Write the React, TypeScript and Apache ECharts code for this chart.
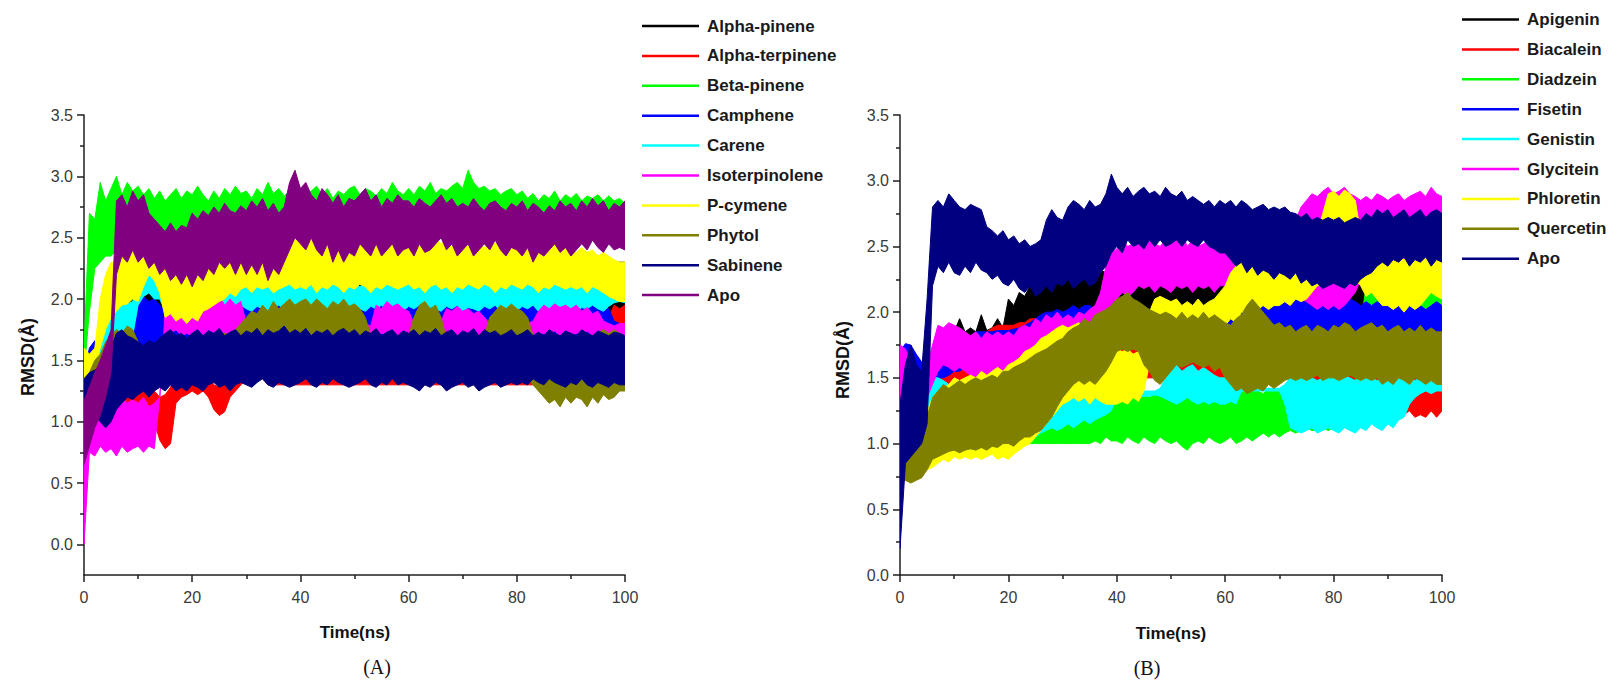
import React, { useEffect, useRef } from "react";
import * as echarts from "echarts";

// ---------- shared time grid (ns), 1 ns steps ----------
const TIME_NS = [0, 1, 2, 3, 4, 5, 6, 7, 8, 9,
  10, 11, 12, 13, 14, 15, 16, 17, 18, 19,
  20, 21, 22, 23, 24, 25, 26, 27, 28, 29,
  30, 31, 32, 33, 34, 35, 36, 37, 38, 39,
  40, 41, 42, 43, 44, 45, 46, 47, 48, 49,
  50, 51, 52, 53, 54, 55, 56, 57, 58, 59,
  60, 61, 62, 63, 64, 65, 66, 67, 68, 69,
  70, 71, 72, 73, 74, 75, 76, 77, 78, 79,
  80, 81, 82, 83, 84, 85, 86, 87, 88, 89,
  90, 91, 92, 93, 94, 95, 96, 97, 98, 99, 100];

const X_TICKS = [0, 20, 40, 60, 80, 100];
const Y_TICKS = [0, 0.5, 1, 1.5, 2, 2.5, 3, 3.5];
const Y_MINOR_A = [0.25, 0.75, 1.25, 1.75, 2.25, 2.75, 3.25];

// ---------- Panel A (terpenes): lower / upper envelope of each RMSD trace ----------
const NAMES_A = ["Alpha-pinene", "Alpha-terpinene", "Beta-pinene", "Camphene", "Carene",
  "Isoterpinolene", "P-cymene", "Phytol", "Sabinene", "Apo"];

const A_ALPHA_PINENE_LO = [1.0, 1.1, 1.2, 1.3, 1.4, 1.5, 1.6, 1.7, 1.75, 1.8,
  1.82, 1.85, 1.85, 1.85, 1.85, 1.85, 1.85, 1.85, 1.85, 1.85,
  1.85, 1.85, 1.85, 1.85, 1.85, 1.85, 1.85, 1.85, 1.85, 1.85,
  1.85, 1.85, 1.85, 1.85, 1.85, 1.85, 1.85, 1.85, 1.85, 1.85,
  1.85, 1.85, 1.85, 1.85, 1.85, 1.85, 1.85, 1.85, 1.85, 1.85,
  1.85, 1.85, 1.85, 1.85, 1.85, 1.85, 1.85, 1.85, 1.85, 1.85,
  1.85, 1.85, 1.85, 1.85, 1.85, 1.85, 1.85, 1.85, 1.85, 1.85,
  1.85, 1.85, 1.85, 1.85, 1.85, 1.85, 1.85, 1.85, 1.85, 1.85,
  1.85, 1.85, 1.85, 1.85, 1.85, 1.85, 1.85, 1.85, 1.85, 1.85,
  1.85, 1.85, 1.85, 1.85, 1.85, 1.85, 1.85, 1.85, 1.85, 1.85, 1.85];
const A_ALPHA_PINENE_HI = [1.4, 1.5, 1.6, 1.7, 1.8, 1.9, 2.0, 2.1, 2.2, 2.25,
  2.3, 2.3, 2.3, 2.3, 2.3, 2.3, 2.3, 2.3, 2.3, 2.3,
  2.3, 2.3, 2.3, 2.3, 2.3, 2.3, 2.3, 2.3, 2.3, 2.3,
  2.3, 2.3, 2.3, 2.3, 2.3, 2.3, 2.3, 2.3, 2.3, 2.3,
  2.3, 2.3, 2.3, 2.3, 2.3, 2.3, 2.3, 2.3, 2.3, 2.3,
  2.3, 2.3, 2.3, 2.3, 2.3, 2.3, 2.3, 2.3, 2.3, 2.3,
  2.3, 2.3, 2.3, 2.3, 2.3, 2.3, 2.3, 2.3, 2.3, 2.3,
  2.3, 2.35, 2.45, 2.35, 2.3, 2.3, 2.3, 2.3, 2.3, 2.3,
  2.3, 2.3, 2.3, 2.3, 2.3, 2.3, 2.3, 2.3, 2.3, 2.3,
  2.3, 2.3, 2.3, 2.3, 2.3, 2.3, 2.3, 2.3, 2.3, 2.3, 2.3];

const A_ALPHA_TERPINENE_LO = [0.9, 1.0, 1.0, 1.0, 1.0, 1.0, 1.0, 1.0, 1.0, 1.05,
  1.05, 1.05, 1.05, 1.0, 0.85, 0.78, 0.82, 1.15, 1.2, 1.22,
  1.25, 1.22, 1.25, 1.2, 1.1, 1.05, 1.08, 1.2, 1.25, 1.3,
  1.35, 1.32, 1.38, 1.35, 1.3, 1.3, 1.3, 1.3, 1.3, 1.3,
  1.3, 1.3, 1.3, 1.3, 1.3, 1.3, 1.3, 1.3, 1.3, 1.3,
  1.3, 1.3, 1.3, 1.3, 1.3, 1.3, 1.3, 1.3, 1.3, 1.3,
  1.3, 1.3, 1.3, 1.3, 1.3, 1.3, 1.3, 1.3, 1.3, 1.3,
  1.3, 1.3, 1.3, 1.3, 1.3, 1.3, 1.3, 1.3, 1.3, 1.3,
  1.3, 1.3, 1.3, 1.3, 1.3, 1.3, 1.3, 1.3, 1.3, 1.3,
  1.3, 1.3, 1.3, 1.32, 1.35, 1.4, 1.45, 1.55, 1.65, 1.7, 1.72];
const A_ALPHA_TERPINENE_HI = [1.2, 1.3, 1.3, 1.3, 1.3, 1.3, 1.3, 1.3, 1.3, 1.3,
  1.3, 1.3, 1.28, 1.25, 1.2, 1.22, 1.28, 1.38, 1.42, 1.4,
  1.45, 1.42, 1.45, 1.38, 1.3, 1.28, 1.3, 1.4, 1.48, 1.5,
  1.52, 1.5, 1.55, 1.48, 1.55, 1.6, 1.6, 1.6, 1.6, 1.6,
  1.6, 1.6, 1.6, 1.6, 1.6, 1.6, 1.6, 1.6, 1.6, 1.6,
  1.6, 1.6, 1.6, 1.6, 1.6, 1.6, 1.6, 1.6, 1.6, 1.6,
  1.6, 1.6, 1.6, 1.6, 1.6, 1.6, 1.6, 1.6, 1.6, 1.6,
  1.6, 1.6, 1.6, 1.6, 1.6, 1.6, 1.6, 1.6, 1.6, 1.6,
  1.6, 1.6, 1.6, 1.6, 1.6, 1.6, 1.6, 1.6, 1.6, 1.6,
  1.6, 1.6, 1.62, 1.65, 1.68, 1.7, 1.75, 1.85, 1.95, 1.92, 1.95];

const A_BETA_PINENE_LO = [1.4, 1.9, 2.25, 2.3, 2.35, 2.35, 2.4, 2.5, 2.5, 2.55,
  2.5, 2.55, 2.5, 2.52, 2.5, 2.48, 2.5, 2.52, 2.5, 2.48,
  2.5, 2.52, 2.55, 2.5, 2.52, 2.5, 2.55, 2.52, 2.5, 2.55,
  2.52, 2.5, 2.55, 2.5, 2.52, 2.5, 2.55, 2.52, 2.55, 2.55,
  2.55, 2.52, 2.5, 2.55, 2.5, 2.52, 2.5, 2.55, 2.52, 2.5,
  2.52, 2.5, 2.55, 2.5, 2.52, 2.5, 2.55, 2.52, 2.5, 2.52,
  2.55, 2.52, 2.55, 2.5, 2.55, 2.52, 2.55, 2.58, 2.55, 2.6,
  2.58, 2.6, 2.55, 2.58, 2.55, 2.52, 2.55, 2.5, 2.52, 2.5,
  2.5, 2.52, 2.5, 2.48, 2.5, 2.52, 2.5, 2.48, 2.5, 2.52,
  2.5, 2.48, 2.5, 2.52, 2.5, 2.48, 2.5, 2.52, 2.5, 2.48, 2.5];
const A_BETA_PINENE_HI = [1.6, 2.7, 2.65, 2.95, 2.8, 2.9, 3.0, 2.85, 2.95, 2.88,
  2.92, 2.85, 2.9, 2.82, 2.88, 2.8, 2.85, 2.9, 2.82, 2.88,
  2.85, 2.92, 2.85, 2.8, 2.88, 2.82, 2.9, 2.85, 2.92, 2.86,
  2.88, 2.82, 2.9, 2.85, 2.95, 2.86, 2.9, 2.84, 2.88, 2.9,
  2.9, 2.85, 2.88, 2.92, 2.85, 2.9, 2.82, 2.88, 2.85, 2.9,
  2.92, 2.85, 2.9, 2.88, 2.84, 2.9, 2.86, 2.95, 2.88, 2.85,
  2.9, 2.85, 2.92, 2.88, 2.95, 2.86, 2.9, 2.88, 2.92, 2.95,
  2.9, 3.05, 2.95, 2.9, 2.92, 2.88, 2.9, 2.85, 2.88, 2.9,
  2.85, 2.88, 2.82, 2.86, 2.8, 2.85, 2.82, 2.88, 2.8, 2.85,
  2.82, 2.86, 2.8, 2.84, 2.82, 2.85, 2.8, 2.84, 2.8, 2.82, 2.78];

const A_CAMPHENE_LO = [1.0, 1.3, 1.4, 1.42, 1.45, 1.5, 1.5, 1.55, 1.55, 1.6,
  1.58, 1.6, 1.58, 1.55, 1.58, 1.55, 1.52, 1.55, 1.58, 1.55,
  1.55, 1.52, 1.55, 1.5, 1.55, 1.52, 1.55, 1.5, 1.55, 1.52,
  1.5, 1.55, 1.52, 1.55, 1.5, 1.52, 1.55, 1.5, 1.55, 1.52,
  1.55, 1.5, 1.52, 1.55, 1.5, 1.55, 1.52, 1.5, 1.55, 1.52,
  1.52, 1.55, 1.5, 1.52, 1.55, 1.5, 1.55, 1.52, 1.5, 1.55,
  1.55, 1.52, 1.5, 1.55, 1.52, 1.5, 1.55, 1.52, 1.55, 1.5,
  1.52, 1.55, 1.5, 1.52, 1.55, 1.5, 1.52, 1.55, 1.5, 1.52,
  1.55, 1.5, 1.52, 1.55, 1.5, 1.52, 1.55, 1.5, 1.52, 1.55,
  1.55, 1.52, 1.5, 1.55, 1.52, 1.55, 1.5, 1.52, 1.5, 1.5, 1.5];
const A_CAMPHENE_HI = [1.4, 1.6, 1.66, 1.62, 1.7, 1.8, 1.85, 1.9, 1.95, 1.92,
  2.0, 2.02, 1.98, 2.0, 1.95, 1.92, 1.95, 1.98, 1.95, 1.92,
  1.95, 1.98, 1.95, 2.0, 1.96, 1.95, 1.98, 1.95, 2.0, 1.96,
  1.98, 1.95, 2.0, 1.96, 1.98, 2.0, 1.95, 1.98, 1.96, 2.0,
  1.98, 2.0, 1.95, 1.98, 2.0, 1.96, 1.95, 1.98, 2.0, 1.96,
  1.95, 1.98, 2.0, 1.96, 1.98, 1.95, 2.0, 1.98, 1.95, 1.98,
  2.0, 1.96, 1.98, 1.95, 2.0, 1.98, 1.96, 1.95, 1.98, 2.0,
  1.96, 1.98, 1.95, 2.0, 1.98, 1.96, 1.95, 1.98, 2.0, 1.96,
  1.98, 1.95, 2.0, 1.96, 1.98, 1.95, 2.0, 1.98, 1.96, 1.95,
  1.98, 2.0, 1.96, 1.98, 1.95, 1.98, 1.95, 1.92, 1.82, 1.8, 1.8];

const A_CARENE_LO = [1.0, 0.78, 1.3, 1.45, 1.5, 1.6, 1.65, 1.68, 1.66, 1.7,
  1.95, 2.02, 2.05, 2.0, 2.0, 1.9, 1.92, 1.88, 1.9, 1.92,
  1.9, 1.92, 1.9, 1.95, 1.92, 1.9, 1.93, 1.9, 1.92, 1.95,
  1.92, 1.9, 1.94, 1.92, 1.9, 1.93, 1.95, 1.92, 1.9, 1.94,
  1.92, 1.95, 1.9, 1.93, 1.92, 1.9, 1.94, 1.92, 1.95, 1.9,
  1.93, 1.92, 1.9, 1.94, 1.92, 1.95, 1.9, 1.93, 1.92, 1.9,
  1.94, 1.92, 1.95, 1.9, 1.93, 1.92, 1.9, 1.94, 1.92, 1.95,
  1.9, 1.93, 1.92, 1.9, 1.94, 1.92, 1.95, 1.9, 1.93, 1.92,
  1.9, 1.94, 1.92, 1.95, 1.9, 1.93, 1.92, 1.9, 1.94, 1.92,
  1.92, 1.9, 1.93, 1.92, 1.95, 1.92, 1.9, 1.94, 1.97, 1.98, 1.97];
const A_CARENE_HI = [1.3, 1.2, 1.55, 1.7, 1.8, 1.9, 1.95, 1.98, 1.96, 1.98,
  2.12, 2.2, 2.22, 2.18, 2.2, 2.12, 2.1, 2.12, 2.08, 2.1,
  2.12, 2.1, 2.14, 2.1, 2.12, 2.15, 2.1, 2.12, 2.1, 2.14,
  2.12, 2.1, 2.15, 2.12, 2.1, 2.14, 2.12, 2.1, 2.15, 2.12,
  2.1, 2.14, 2.12, 2.15, 2.1, 2.12, 2.14, 2.1, 2.12, 2.15,
  2.12, 2.1, 2.14, 2.12, 2.15, 2.1, 2.12, 2.14, 2.1, 2.12,
  2.15, 2.12, 2.1, 2.14, 2.12, 2.15, 2.1, 2.12, 2.14, 2.1,
  2.12, 2.15, 2.12, 2.1, 2.14, 2.12, 2.15, 2.1, 2.12, 2.14,
  2.1, 2.12, 2.15, 2.12, 2.1, 2.14, 2.12, 2.15, 2.1, 2.12,
  2.12, 2.1, 2.14, 2.12, 2.1, 2.14, 2.12, 2.15, 2.12, 2.1, 2.12];

const A_ISOTERPINOLENE_LO = [0.0, 0.75, 0.72, 0.8, 0.75, 0.78, 0.72, 0.8, 0.75, 0.78,
  0.8, 0.75, 0.8, 0.78, 1.2, 1.7, 1.72, 1.75, 1.7, 1.72,
  1.7, 1.72, 1.7, 1.75, 1.72, 1.7, 1.72, 1.7, 1.72, 1.7,
  1.55, 1.55, 1.55, 1.55, 1.55, 1.55, 1.55, 1.55, 1.55, 1.55,
  1.55, 1.55, 1.55, 1.55, 1.55, 1.55, 1.55, 1.55, 1.55, 1.55,
  1.55, 1.55, 1.55, 1.55, 1.7, 1.72, 1.7, 1.74, 1.7, 1.72,
  1.7, 1.55, 1.55, 1.55, 1.55, 1.55, 1.6, 1.7, 1.72, 1.7,
  1.72, 1.7, 1.74, 1.7, 1.72, 1.55, 1.55, 1.55, 1.55, 1.55,
  1.55, 1.55, 1.55, 1.6, 1.7, 1.72, 1.7, 1.74, 1.7, 1.72,
  1.7, 1.72, 1.7, 1.74, 1.7, 1.72, 1.6, 1.55, 1.55, 1.55, 1.55];
const A_ISOTERPINOLENE_HI = [0.9, 1.05, 1.1, 1.15, 1.1, 1.18, 1.12, 1.2, 1.15, 1.18,
  1.15, 1.2, 1.12, 1.15, 1.2, 1.9, 1.95, 2.0, 1.92, 1.98,
  2.02, 1.95, 2.0, 2.05, 1.98, 2.02, 1.95, 2.0, 1.95, 1.98,
  1.8, 1.78, 1.8, 1.78, 1.8, 1.78, 1.8, 1.78, 1.8, 1.78,
  1.8, 1.78, 1.8, 1.78, 1.8, 1.78, 1.8, 1.78, 1.8, 1.78,
  1.8, 1.78, 1.8, 1.78, 1.95, 1.92, 1.98, 1.94, 1.96, 1.92,
  1.9, 1.8, 1.78, 1.8, 1.78, 1.8, 1.82, 1.92, 1.9, 1.94,
  1.9, 1.92, 1.88, 1.9, 1.85, 1.8, 1.78, 1.8, 1.78, 1.8,
  1.8, 1.78, 1.8, 1.82, 1.9, 1.95, 1.92, 1.96, 1.93, 1.95,
  1.92, 1.95, 1.9, 1.93, 1.88, 1.9, 1.82, 1.8, 1.78, 1.8, 1.8];

const A_P_CYMENE_LO = [1.35, 1.35, 1.4, 1.6, 1.75, 1.85, 1.9, 1.95, 1.96, 2.0,
  1.98, 2.1, 2.2, 2.15, 2.05, 1.85, 1.88, 1.82, 1.85, 1.8,
  1.85, 1.82, 1.9, 1.92, 1.95, 1.98, 2.0, 2.05, 2.02, 2.08,
  2.1, 2.05, 2.1, 2.08, 2.1, 2.05, 2.08, 2.1, 2.12, 2.08,
  2.1, 2.08, 2.12, 2.05, 2.1, 2.08, 2.12, 2.1, 2.05, 2.1,
  2.08, 2.12, 2.1, 2.05, 2.1, 2.08, 2.12, 2.1, 2.08, 2.1,
  2.12, 2.08, 2.1, 2.05, 2.1, 2.12, 2.08, 2.1, 2.05, 2.1,
  2.08, 2.12, 2.1, 2.08, 2.12, 2.1, 2.05, 2.1, 2.08, 2.12,
  2.1, 2.08, 2.12, 2.1, 2.05, 2.1, 2.08, 2.12, 2.1, 2.08,
  2.1, 2.08, 2.1, 2.05, 2.1, 2.08, 2.05, 2.02, 2.0, 1.98, 1.98];
const A_P_CYMENE_HI = [1.6, 1.55, 1.6, 2.0, 2.2, 2.3, 2.3, 2.35, 2.3, 2.38,
  2.35, 2.4, 2.45, 2.42, 2.45, 2.4, 2.45, 2.38, 2.42, 2.35,
  2.4, 2.35, 2.3, 2.38, 2.32, 2.4, 2.35, 2.3, 2.38, 2.32,
  2.35, 2.4, 2.38, 2.42, 2.35, 2.4, 2.45, 2.4, 2.45, 2.48,
  2.5, 2.45, 2.55, 2.48, 2.52, 2.45, 2.55, 2.5, 2.48, 2.52,
  2.55, 2.5, 2.45, 2.5, 2.48, 2.42, 2.5, 2.45, 2.48, 2.45,
  2.5, 2.45, 2.48, 2.52, 2.45, 2.5, 2.45, 2.48, 2.42, 2.5,
  2.45, 2.48, 2.5, 2.45, 2.42, 2.48, 2.45, 2.5, 2.45, 2.48,
  2.45, 2.42, 2.48, 2.4, 2.45, 2.42, 2.4, 2.45, 2.4, 2.42,
  2.4, 2.38, 2.42, 2.38, 2.4, 2.35, 2.38, 2.35, 2.32, 2.3, 2.3];

const A_PHYTOL_LO = [1.0, 1.1, 1.2, 1.25, 1.3, 1.35, 1.4, 1.42, 1.45, 1.4,
  1.38, 1.35, 1.4, 1.38, 1.35, 1.4, 1.38, 1.35, 1.4, 1.38,
  1.4, 1.42, 1.38, 1.4, 1.42, 1.45, 1.42, 1.45, 1.48, 1.45,
  1.48, 1.5, 1.48, 1.5, 1.52, 1.5, 1.48, 1.5, 1.52, 1.5,
  1.5, 1.52, 1.5, 1.48, 1.5, 1.52, 1.5, 1.48, 1.5, 1.52,
  1.5, 1.48, 1.5, 1.45, 1.48, 1.45, 1.5, 1.48, 1.45, 1.5,
  1.48, 1.5, 1.52, 1.5, 1.48, 1.45, 1.48, 1.45, 1.5, 1.48,
  1.45, 1.48, 1.5, 1.45, 1.48, 1.5, 1.48, 1.45, 1.42, 1.45,
  1.4, 1.38, 1.35, 1.3, 1.25, 1.2, 1.15, 1.18, 1.12, 1.2,
  1.15, 1.2, 1.18, 1.12, 1.2, 1.15, 1.22, 1.18, 1.2, 1.25, 1.25];
const A_PHYTOL_HI = [1.3, 1.4, 1.5, 1.55, 1.65, 1.7, 1.75, 1.72, 1.78, 1.75,
  1.65, 1.6, 1.62, 1.6, 1.62, 1.65, 1.68, 1.65, 1.7, 1.68,
  1.7, 1.68, 1.7, 1.65, 1.68, 1.7, 1.72, 1.7, 1.75, 1.8,
  1.85, 1.9, 1.88, 1.95, 1.9, 1.98, 1.92, 1.96, 2.0, 1.95,
  1.98, 2.0, 1.95, 2.0, 1.96, 1.92, 1.98, 1.95, 2.0, 1.94,
  1.96, 1.92, 1.85, 1.7, 1.65, 1.68, 1.65, 1.68, 1.65, 1.68,
  1.7, 1.85, 1.95, 1.98, 1.92, 1.95, 1.85, 1.68, 1.65, 1.68,
  1.65, 1.68, 1.7, 1.65, 1.7, 1.85, 1.9, 1.95, 1.92, 1.96,
  1.92, 1.9, 1.85, 1.7, 1.68, 1.65, 1.68, 1.65, 1.68, 1.65,
  1.68, 1.65, 1.7, 1.68, 1.7, 1.72, 1.75, 1.72, 1.75, 1.72, 1.7];

const A_SABINENE_LO = [1.05, 1.1, 1.05, 1.0, 0.95, 1.0, 1.1, 1.15, 1.2, 1.18,
  1.22, 1.25, 1.2, 1.25, 1.28, 1.25, 1.3, 1.25, 1.28, 1.25,
  1.3, 1.28, 1.25, 1.3, 1.32, 1.28, 1.3, 1.25, 1.3, 1.32,
  1.3, 1.28, 1.32, 1.35, 1.3, 1.28, 1.32, 1.3, 1.28, 1.3,
  1.32, 1.35, 1.3, 1.28, 1.32, 1.3, 1.35, 1.32, 1.3, 1.28,
  1.3, 1.32, 1.35, 1.3, 1.28, 1.32, 1.3, 1.35, 1.3, 1.32,
  1.3, 1.28, 1.25, 1.3, 1.28, 1.32, 1.3, 1.25, 1.28, 1.3,
  1.32, 1.28, 1.3, 1.25, 1.28, 1.3, 1.32, 1.28, 1.3, 1.32,
  1.3, 1.32, 1.3, 1.35, 1.32, 1.3, 1.35, 1.32, 1.3, 1.28,
  1.32, 1.3, 1.35, 1.3, 1.28, 1.32, 1.3, 1.28, 1.32, 1.3, 1.3];
const A_SABINENE_HI = [1.35, 1.4, 1.42, 1.45, 1.55, 1.6, 1.72, 1.75, 1.7, 1.68,
  1.65, 1.62, 1.66, 1.64, 1.68, 1.72, 1.75, 1.7, 1.72, 1.68,
  1.72, 1.75, 1.7, 1.74, 1.72, 1.76, 1.7, 1.73, 1.75, 1.7,
  1.74, 1.72, 1.76, 1.7, 1.75, 1.72, 1.74, 1.78, 1.72, 1.75,
  1.72, 1.76, 1.7, 1.74, 1.72, 1.75, 1.7, 1.74, 1.76, 1.72,
  1.75, 1.7, 1.74, 1.72, 1.76, 1.7, 1.73, 1.75, 1.7, 1.74,
  1.72, 1.75, 1.7, 1.74, 1.72, 1.76, 1.7, 1.73, 1.75, 1.7,
  1.74, 1.72, 1.76, 1.7, 1.75, 1.72, 1.74, 1.7, 1.72, 1.75,
  1.7, 1.72, 1.75, 1.7, 1.73, 1.7, 1.75, 1.72, 1.7, 1.74,
  1.72, 1.7, 1.75, 1.72, 1.7, 1.74, 1.72, 1.7, 1.73, 1.72, 1.7];

const A_APO_LO = [0.65, 0.8, 0.95, 1.05, 1.2, 1.4, 2.2, 2.35, 2.3, 2.4,
  2.3, 2.35, 2.25, 2.3, 2.2, 2.25, 2.15, 2.2, 2.12, 2.2,
  2.1, 2.2, 2.15, 2.25, 2.2, 2.3, 2.25, 2.3, 2.2, 2.3,
  2.2, 2.28, 2.2, 2.3, 2.15, 2.25, 2.2, 2.3, 2.4, 2.5,
  2.45, 2.4, 2.5, 2.4, 2.35, 2.45, 2.3, 2.4, 2.3, 2.38,
  2.35, 2.45, 2.4, 2.35, 2.45, 2.35, 2.4, 2.45, 2.35, 2.4,
  2.42, 2.35, 2.45, 2.38, 2.4, 2.45, 2.5, 2.4, 2.45, 2.35,
  2.4, 2.45, 2.35, 2.4, 2.45, 2.4, 2.48, 2.4, 2.35, 2.42,
  2.4, 2.35, 2.42, 2.3, 2.38, 2.35, 2.4, 2.45, 2.38, 2.42,
  2.35, 2.4, 2.45, 2.4, 2.48, 2.42, 2.38, 2.45, 2.4, 2.42, 2.4];
const A_APO_HI = [1.17, 1.28, 1.4, 1.5, 1.62, 1.75, 2.8, 2.85, 2.75, 2.88,
  2.8, 2.85, 2.7, 2.65, 2.6, 2.55, 2.62, 2.55, 2.6, 2.58,
  2.7, 2.65, 2.72, 2.68, 2.75, 2.7, 2.78, 2.72, 2.7, 2.76,
  2.72, 2.8, 2.75, 2.82, 2.72, 2.78, 2.7, 2.75, 2.95, 3.05,
  2.9, 2.95, 2.85, 2.8, 2.9, 2.85, 2.78, 2.85, 2.75, 2.82,
  2.8, 2.85, 2.9, 2.8, 2.85, 2.75, 2.82, 2.78, 2.85, 2.8,
  2.8, 2.75, 2.82, 2.78, 2.75, 2.8, 2.85, 2.78, 2.82, 2.75,
  2.78, 2.75, 2.82, 2.76, 2.72, 2.78, 2.8, 2.75, 2.72, 2.78,
  2.75, 2.8, 2.72, 2.78, 2.75, 2.7, 2.76, 2.72, 2.8, 2.75,
  2.78, 2.72, 2.8, 2.75, 2.82, 2.76, 2.8, 2.72, 2.78, 2.75, 2.8];

// ---------- Panel B (flavonoids) ----------
const NAMES_B = ["Apigenin", "Biacalein", "Diadzein", "Fisetin", "Genistin",
  "Glycitein", "Phloretin", "Quercetin", "Apo"];

const B_APIGENIN_LO = [0.9, 1.0, 1.05, 1.1, 1.15, 1.2, 1.3, 1.4, 1.5, 1.55,
  1.6, 1.62, 1.65, 1.68, 1.7, 1.7, 1.72, 1.72, 1.75, 1.78,
  1.8, 1.82, 1.85, 1.85, 1.88, 1.9, 1.9, 1.92, 1.95, 1.95,
  1.95, 1.98, 2.0, 2.0, 2.0, 2.02, 2.05, 2.02, 2.05, 2.05,
  2.0, 2.02, 2.0, 1.98, 2.0, 2.02, 1.98, 2.0, 1.97, 2.0,
  2.0, 2.02, 2.0, 1.98, 2.0, 2.02, 2.0, 1.98, 2.0, 2.02,
  2.0, 2.02, 2.0, 1.98, 2.0, 2.02, 2.0, 1.98, 2.0, 2.02,
  2.02, 2.05, 2.05, 2.08, 2.05, 2.05, 2.08, 2.05, 2.05, 2.05,
  2.05, 2.02, 2.0, 2.02, 2.0, 2.0, 2.02, 2.0, 2.0, 2.02,
  2.0, 2.0, 2.0, 2.0, 2.0, 2.0, 2.0, 2.0, 2.0, 2.0, 2.0];
const B_APIGENIN_HI = [1.3, 1.4, 1.45, 1.5, 1.5, 1.55, 1.6, 1.7, 1.75, 1.8,
  1.85, 1.95, 1.85, 1.88, 1.85, 1.98, 1.86, 1.88, 1.95, 1.88,
  2.1, 2.05, 2.15, 2.12, 2.2, 2.18, 2.25, 2.22, 2.3, 2.28,
  2.32, 2.3, 2.35, 2.32, 2.35, 2.3, 2.35, 2.32, 2.3, 2.32,
  2.3, 2.28, 2.3, 2.25, 2.3, 2.28, 2.3, 2.28, 2.3, 2.25,
  2.28, 2.3, 2.25, 2.3, 2.28, 2.3, 2.25, 2.3, 2.28, 2.3,
  2.3, 2.32, 2.3, 2.35, 2.3, 2.32, 2.3, 2.35, 2.3, 2.32,
  2.35, 2.38, 2.4, 2.5, 2.4, 2.38, 2.4, 2.38, 2.4, 2.38,
  2.35, 2.38, 2.35, 2.32, 2.35, 2.32, 2.35, 2.32, 2.35, 2.32,
  2.35, 2.32, 2.35, 2.32, 2.35, 2.32, 2.35, 2.32, 2.35, 2.32, 2.35];

const B_BIACALEIN_LO = [1.0, 1.05, 1.1, 1.15, 1.2, 1.25, 1.3, 1.35, 1.38, 1.4,
  1.4, 1.42, 1.45, 1.45, 1.48, 1.5, 1.5, 1.5, 1.52, 1.5,
  1.5, 1.52, 1.55, 1.55, 1.55, 1.58, 1.6, 1.6, 1.58, 1.6,
  1.6, 1.58, 1.6, 1.58, 1.55, 1.55, 1.55, 1.55, 1.55, 1.55,
  1.55, 1.55, 1.52, 1.5, 1.5, 1.5, 1.5, 1.5, 1.5, 1.5,
  1.5, 1.5, 1.5, 1.5, 1.5, 1.5, 1.5, 1.5, 1.5, 1.5,
  1.5, 1.5, 1.5, 1.5, 1.5, 1.5, 1.5, 1.5, 1.5, 1.5,
  1.5, 1.5, 1.48, 1.48, 1.45, 1.45, 1.45, 1.45, 1.42, 1.42,
  1.4, 1.4, 1.38, 1.38, 1.4, 1.38, 1.35, 1.3, 1.28, 1.25,
  1.22, 1.25, 1.2, 1.22, 1.25, 1.2, 1.22, 1.2, 1.25, 1.2, 1.25];
const B_BIACALEIN_HI = [1.3, 1.35, 1.4, 1.45, 1.5, 1.55, 1.6, 1.62, 1.65, 1.68,
  1.7, 1.72, 1.75, 1.78, 1.8, 1.82, 1.85, 1.88, 1.9, 1.9,
  1.9, 1.9, 1.92, 1.92, 1.95, 1.95, 1.95, 1.95, 1.95, 1.95,
  1.95, 1.98, 2.0, 2.0, 2.0, 1.98, 1.95, 1.95, 1.95, 1.95,
  1.95, 1.95, 1.92, 1.9, 1.9, 1.9, 1.9, 1.9, 1.9, 1.9,
  1.9, 1.9, 1.9, 1.9, 1.9, 1.9, 1.9, 1.9, 1.9, 1.9,
  1.9, 1.9, 1.9, 1.9, 1.9, 1.9, 1.9, 1.9, 1.9, 1.9,
  1.9, 1.9, 1.88, 1.88, 1.85, 1.85, 1.85, 1.85, 1.85, 1.85,
  1.85, 1.85, 1.85, 1.85, 1.85, 1.85, 1.85, 1.85, 1.85, 1.85,
  1.8, 1.8, 1.8, 1.8, 1.8, 1.8, 1.8, 1.8, 1.8, 1.8, 1.8];

const B_DIADZEIN_LO = [0.8, 0.8, 0.8, 0.82, 0.85, 0.88, 0.9, 0.92, 0.95, 0.98,
  1.0, 1.0, 1.0, 1.0, 1.0, 1.0, 1.0, 1.0, 1.0, 1.0,
  1.0, 1.0, 1.0, 1.0, 1.0, 1.0, 1.0, 1.0, 1.0, 1.0,
  1.0, 1.0, 1.0, 1.0, 1.0, 1.0, 1.02, 1.0, 1.05, 1.02,
  1.02, 1.0, 1.05, 1.02, 1.0, 1.05, 1.02, 1.0, 1.05, 1.02,
  1.0, 1.02, 0.98, 0.95, 1.0, 1.02, 1.0, 1.05, 1.02, 1.0,
  1.02, 1.05, 1.0, 1.02, 1.05, 1.02, 1.05, 1.08, 1.05, 1.08,
  1.05, 1.08, 1.1, 1.08, 1.1, 1.12, 1.1, 1.1, 1.12, 1.1,
  1.12, 1.1, 1.12, 1.15, 1.12, 1.5, 1.85, 1.88, 1.85, 1.88,
  1.85, 1.88, 1.85, 1.9, 1.88, 1.85, 1.88, 1.9, 1.88, 1.9, 1.9];
const B_DIADZEIN_HI = [1.1, 1.1, 1.1, 1.12, 1.15, 1.2, 1.25, 1.28, 1.3, 1.32,
  1.35, 1.33, 1.35, 1.36, 1.35, 1.33, 1.35, 1.36, 1.35, 1.35,
  1.35, 1.35, 1.35, 1.35, 1.35, 1.35, 1.35, 1.35, 1.35, 1.35,
  1.35, 1.36, 1.35, 1.38, 1.35, 1.36, 1.38, 1.35, 1.38, 1.36,
  1.35, 1.38, 1.4, 1.35, 1.38, 1.4, 1.35, 1.38, 1.36, 1.4,
  1.38, 1.35, 1.4, 1.38, 1.35, 1.4, 1.38, 1.35, 1.4, 1.38,
  1.4, 1.38, 1.42, 1.4, 1.38, 1.42, 1.4, 1.38, 1.42, 1.4,
  1.4, 1.42, 1.4, 1.38, 1.4, 1.42, 1.4, 1.38, 1.4, 1.42,
  1.4, 1.42, 1.4, 1.42, 1.45, 1.9, 2.2, 2.18, 2.15, 2.2,
  2.15, 2.12, 2.18, 2.15, 2.2, 2.15, 2.18, 2.2, 2.18, 2.2, 2.2];

const B_FISETIN_LO = [1.3, 1.45, 1.5, 1.48, 1.45, 1.42, 1.45, 1.5, 1.5, 1.52,
  1.55, 1.55, 1.58, 1.6, 1.6, 1.62, 1.62, 1.65, 1.68, 1.7,
  1.7, 1.7, 1.72, 1.72, 1.75, 1.75, 1.75, 1.78, 1.78, 1.8,
  1.8, 1.82, 1.8, 1.82, 1.8, 1.82, 1.8, 1.82, 1.8, 1.82,
  1.8, 1.82, 1.8, 1.8, 1.82, 1.8, 1.82, 1.8, 1.8, 1.82,
  1.8, 1.82, 1.8, 1.82, 1.8, 1.8, 1.82, 1.8, 1.82, 1.8,
  1.82, 1.85, 1.82, 1.85, 1.82, 1.85, 1.82, 1.85, 1.82, 1.85,
  1.85, 1.82, 1.85, 1.82, 1.85, 1.82, 1.85, 1.82, 1.85, 1.82,
  1.82, 1.85, 1.82, 1.85, 1.82, 1.85, 1.82, 1.85, 1.82, 1.85,
  1.82, 1.85, 1.82, 1.85, 1.82, 1.85, 1.82, 1.85, 1.82, 1.85, 1.82];
const B_FISETIN_HI = [1.7, 1.76, 1.75, 1.68, 1.62, 1.6, 1.65, 1.72, 1.75, 1.75,
  1.78, 1.8, 1.82, 1.82, 1.85, 1.85, 1.85, 1.85, 1.86, 1.86,
  1.86, 1.87, 1.88, 1.9, 1.92, 1.95, 1.98, 2.0, 2.0, 2.02,
  2.0, 2.02, 2.05, 2.02, 2.05, 2.05, 2.02, 2.05, 2.05, 2.05,
  2.02, 2.0, 2.02, 2.0, 1.98, 2.0, 2.02, 2.0, 1.98, 2.0,
  2.0, 2.02, 2.0, 1.98, 2.0, 2.02, 2.0, 2.02, 2.04, 2.05,
  2.05, 2.08, 2.1, 2.12, 2.1, 2.12, 2.08, 2.1, 2.12, 2.1,
  2.12, 2.1, 2.15, 2.12, 2.1, 2.12, 2.15, 2.12, 2.1, 2.12,
  2.1, 2.12, 2.08, 2.1, 2.08, 2.05, 2.08, 2.05, 2.08, 2.05,
  2.05, 2.08, 2.05, 2.02, 2.05, 2.08, 2.05, 2.02, 2.05, 2.08, 2.05];

const B_GENISTIN_LO = [1.0, 1.0, 1.05, 1.08, 1.1, 1.15, 1.25, 1.3, 1.2, 1.15,
  1.15, 1.12, 1.1, 1.12, 1.1, 1.12, 1.1, 1.1, 1.12, 1.1,
  1.1, 1.08, 1.05, 1.08, 1.05, 1.05, 1.08, 1.1, 1.12, 1.1,
  1.12, 1.15, 1.12, 1.15, 1.18, 1.15, 1.18, 1.2, 1.22, 1.25,
  1.36, 1.36, 1.36, 1.36, 1.36, 1.36, 1.36, 1.37, 1.36, 1.34,
  1.32, 1.3, 1.32, 1.35, 1.32, 1.3, 1.32, 1.3, 1.32, 1.3,
  1.3, 1.32, 1.3, 1.4, 1.4, 1.4, 1.4, 1.4, 1.4, 1.4,
  1.4, 1.3, 1.12, 1.1, 1.08, 1.1, 1.12, 1.08, 1.1, 1.12,
  1.1, 1.08, 1.12, 1.1, 1.08, 1.12, 1.1, 1.15, 1.12, 1.1,
  1.15, 1.12, 1.18, 1.2, 1.3, 1.35, 1.38, 1.4, 1.38, 1.4, 1.4];
const B_GENISTIN_HI = [1.3, 1.35, 1.38, 1.4, 1.42, 1.45, 1.5, 1.5, 1.48, 1.45,
  1.45, 1.48, 1.45, 1.5, 1.48, 1.5, 1.48, 1.5, 1.48, 1.45,
  1.42, 1.4, 1.42, 1.4, 1.42, 1.4, 1.42, 1.45, 1.42, 1.45,
  1.42, 1.45, 1.48, 1.45, 1.48, 1.45, 1.48, 1.45, 1.42, 1.45,
  1.4, 1.4, 1.4, 1.4, 1.4, 1.4, 1.4, 1.4, 1.42, 1.5,
  1.58, 1.6, 1.55, 1.58, 1.6, 1.55, 1.58, 1.55, 1.52, 1.5,
  1.5, 1.48, 1.5, 1.42, 1.42, 1.42, 1.42, 1.42, 1.42, 1.42,
  1.42, 1.45, 1.5, 1.48, 1.5, 1.52, 1.5, 1.48, 1.5, 1.52,
  1.5, 1.48, 1.52, 1.5, 1.48, 1.5, 1.52, 1.5, 1.48, 1.5,
  1.5, 1.48, 1.5, 1.52, 1.5, 1.48, 1.5, 1.5, 1.48, 1.5, 1.5];

const B_GLYCITEIN_LO = [1.25, 1.3, 1.28, 1.3, 1.32, 1.35, 1.45, 1.55, 1.6, 1.58,
  1.55, 1.58, 1.55, 1.52, 1.5, 1.55, 1.52, 1.5, 1.55, 1.52,
  1.55, 1.58, 1.55, 1.6, 1.62, 1.65, 1.68, 1.7, 1.7, 1.72,
  1.7, 1.72, 1.7, 1.72, 1.75, 1.75, 1.78, 1.85, 1.95, 2.05,
  2.1, 2.15, 2.12, 2.15, 2.2, 2.18, 2.2, 2.15, 2.2, 2.18,
  2.15, 2.2, 2.18, 2.2, 2.15, 2.2, 2.18, 2.2, 2.15, 2.2,
  2.2, 2.22, 2.2, 2.18, 2.2, 2.15, 2.2, 2.18, 2.15, 2.2,
  2.15, 2.18, 2.12, 2.15, 2.1, 2.08, 2.05, 2.02, 2.05, 2.02,
  2.05, 2.02, 2.05, 2.1, 2.15, 2.25, 2.3, 2.35, 2.32, 2.38,
  2.35, 2.4, 2.38, 2.35, 2.4, 2.38, 2.4, 2.35, 2.4, 2.38, 2.4];
const B_GLYCITEIN_HI = [1.75, 1.72, 1.62, 1.55, 1.55, 1.6, 1.75, 1.9, 1.88, 1.92,
  1.9, 1.88, 1.85, 1.82, 1.85, 1.8, 1.85, 1.82, 1.85, 1.82,
  1.85, 1.82, 1.88, 1.9, 1.88, 1.95, 1.92, 1.98, 1.95, 2.0,
  1.95, 1.98, 1.95, 2.0, 1.98, 2.02, 2.05, 2.15, 2.35, 2.45,
  2.48, 2.55, 2.5, 2.52, 2.55, 2.5, 2.55, 2.52, 2.5, 2.55,
  2.52, 2.55, 2.6, 2.5, 2.55, 2.5, 2.52, 2.55, 2.5, 2.52,
  2.5, 2.45, 2.48, 2.42, 2.45, 2.4, 2.45, 2.42, 2.45, 2.48,
  2.5, 2.55, 2.6, 2.7, 2.8, 2.85, 2.9, 2.88, 2.92, 2.95,
  2.9, 2.92, 2.95, 2.9, 2.88, 2.85, 2.88, 2.85, 2.9, 2.88,
  2.85, 2.88, 2.9, 2.85, 2.88, 2.9, 2.92, 2.88, 2.95, 2.9, 2.88];

const B_PHLORETIN_LO = [0.75, 0.72, 0.72, 0.75, 0.78, 0.8, 0.82, 0.85, 0.88, 0.86,
  0.9, 0.88, 0.9, 0.88, 0.9, 0.88, 0.9, 0.92, 0.88, 0.9,
  0.88, 0.92, 0.95, 0.98, 1.0, 1.05, 1.1, 1.15, 1.2, 1.25,
  1.3, 1.32, 1.35, 1.32, 1.35, 1.3, 1.35, 1.32, 1.3, 1.3,
  1.3, 1.32, 1.3, 1.35, 1.32, 1.4, 1.6, 1.75, 1.75, 1.8,
  1.8, 1.82, 1.8, 1.85, 1.82, 1.85, 1.85, 1.88, 1.85, 1.9,
  1.9, 1.95, 1.92, 2.0, 1.98, 2.0, 2.02, 2.05, 2.02, 2.05,
  2.05, 2.08, 2.05, 2.1, 2.08, 2.1, 2.15, 2.2, 2.22, 2.25,
  2.3, 2.28, 2.3, 2.28, 2.25, 2.2, 2.12, 2.15, 2.1, 2.05,
  2.05, 2.02, 2.05, 2.0, 2.05, 2.02, 2.05, 2.1, 2.15, 2.12, 2.1];
const B_PHLORETIN_HI = [1.3, 1.1, 1.1, 1.12, 1.15, 1.25, 1.35, 1.4, 1.42, 1.45,
  1.5, 1.48, 1.5, 1.52, 1.5, 1.55, 1.52, 1.55, 1.58, 1.55,
  1.6, 1.62, 1.65, 1.7, 1.72, 1.75, 1.8, 1.82, 1.85, 1.88,
  1.9, 1.88, 1.9, 1.92, 1.88, 1.85, 1.82, 1.8, 1.75, 1.72,
  1.72, 1.7, 1.72, 1.68, 1.7, 1.85, 2.0, 2.1, 2.12, 2.1,
  2.08, 2.1, 2.05, 2.08, 2.05, 2.1, 2.05, 2.08, 2.1, 2.15,
  2.2, 2.3, 2.35, 2.4, 2.42, 2.45, 2.42, 2.45, 2.4, 2.45,
  2.45, 2.48, 2.5, 2.45, 2.48, 2.45, 2.5, 2.6, 2.75, 2.9,
  2.92, 2.88, 2.93, 2.9, 2.85, 2.6, 2.45, 2.42, 2.4, 2.42,
  2.4, 2.45, 2.42, 2.4, 2.42, 2.45, 2.4, 2.45, 2.4, 2.42, 2.4];

const B_QUERCETIN_LO = [0.72, 0.72, 0.7, 0.72, 0.74, 0.8, 0.88, 0.9, 0.92, 0.94,
  0.95, 0.93, 0.95, 0.96, 0.95, 0.97, 0.95, 0.98, 0.97, 1.0,
  1.0, 0.98, 1.02, 1.05, 1.05, 1.08, 1.1, 1.15, 1.2, 1.28,
  1.35, 1.4, 1.45, 1.48, 1.45, 1.48, 1.45, 1.5, 1.55, 1.62,
  1.7, 1.72, 1.7, 1.72, 1.7, 1.6, 1.55, 1.48, 1.45, 1.5,
  1.55, 1.6, 1.58, 1.6, 1.62, 1.6, 1.58, 1.6, 1.55, 1.58,
  1.5, 1.45, 1.4, 1.42, 1.38, 1.4, 1.42, 1.4, 1.45, 1.42,
  1.45, 1.48, 1.5, 1.48, 1.5, 1.48, 1.5, 1.52, 1.48, 1.5,
  1.5, 1.48, 1.5, 1.52, 1.5, 1.48, 1.5, 1.48, 1.5, 1.45,
  1.48, 1.45, 1.5, 1.48, 1.45, 1.5, 1.48, 1.45, 1.48, 1.45, 1.45];
const B_QUERCETIN_HI = [1.0, 0.95, 1.0, 1.02, 1.05, 1.2, 1.35, 1.4, 1.45, 1.42,
  1.45, 1.48, 1.45, 1.48, 1.5, 1.48, 1.5, 1.52, 1.5, 1.55,
  1.55, 1.58, 1.6, 1.62, 1.65, 1.68, 1.7, 1.72, 1.75, 1.78,
  1.8, 1.85, 1.88, 1.9, 1.95, 1.92, 1.98, 2.0, 2.02, 2.05,
  2.1, 2.12, 2.15, 2.1, 2.08, 2.05, 2.02, 2.0, 1.98, 2.0,
  1.98, 1.95, 2.0, 1.95, 1.98, 1.95, 2.0, 1.95, 1.98, 1.95,
  1.92, 1.9, 1.95, 1.98, 2.05, 2.1, 2.05, 2.0, 1.95, 1.9,
  1.92, 1.88, 1.9, 1.85, 1.88, 1.9, 1.85, 1.9, 1.88, 1.85,
  1.9, 1.88, 1.92, 1.9, 1.85, 1.88, 1.9, 1.92, 1.88, 1.9,
  1.85, 1.88, 1.9, 1.85, 1.88, 1.85, 1.9, 1.85, 1.88, 1.85, 1.85];

const B_APO_LO = [0.2, 0.85, 0.9, 0.95, 1.0, 1.15, 2.2, 2.35, 2.3, 2.38,
  2.3, 2.28, 2.35, 2.3, 2.38, 2.32, 2.3, 2.25, 2.28, 2.22,
  2.2, 2.25, 2.18, 2.15, 2.2, 2.12, 2.15, 2.2, 2.15, 2.22,
  2.2, 2.25, 2.18, 2.22, 2.25, 2.2, 2.22, 2.3, 2.35, 2.45,
  2.5, 2.45, 2.55, 2.5, 2.52, 2.48, 2.55, 2.5, 2.55, 2.5,
  2.52, 2.55, 2.5, 2.55, 2.52, 2.5, 2.55, 2.5, 2.48, 2.45,
  2.45, 2.4, 2.35, 2.38, 2.3, 2.35, 2.28, 2.32, 2.3, 2.25,
  2.3, 2.28, 2.25, 2.3, 2.22, 2.25, 2.2, 2.22, 2.18, 2.2,
  2.22, 2.2, 2.18, 2.22, 2.2, 2.25, 2.28, 2.3, 2.35, 2.38,
  2.35, 2.4, 2.38, 2.42, 2.35, 2.4, 2.38, 2.42, 2.35, 2.4, 2.38];
const B_APO_HI = [1.3, 1.6, 1.75, 1.6, 1.55, 2.1, 2.8, 2.85, 2.8, 2.9,
  2.85, 2.8, 2.78, 2.82, 2.8, 2.78, 2.65, 2.62, 2.58, 2.62,
  2.55, 2.58, 2.52, 2.55, 2.5, 2.52, 2.55, 2.7, 2.78, 2.72,
  2.7, 2.8, 2.85, 2.82, 2.78, 2.85, 2.8, 2.82, 2.9, 3.05,
  2.95, 2.9, 2.95, 2.88, 2.92, 2.95, 2.9, 2.92, 2.88, 2.95,
  2.9, 2.88, 2.92, 2.85, 2.88, 2.85, 2.82, 2.85, 2.8, 2.85,
  2.82, 2.85, 2.8, 2.85, 2.82, 2.78, 2.8, 2.82, 2.78, 2.8,
  2.78, 2.8, 2.76, 2.75, 2.72, 2.75, 2.7, 2.72, 2.7, 2.72,
  2.7, 2.72, 2.68, 2.7, 2.72, 2.7, 2.75, 2.72, 2.78, 2.75,
  2.78, 2.72, 2.75, 2.78, 2.72, 2.75, 2.78, 2.72, 2.76, 2.78, 2.75];

// ---------- styling ----------
const COLORS = ["#000000", "#ff0000", "#00ff00", "#0000ff", "#00ffff",
  "#ff00ff", "#ffff00", "#808000", "#000080", "#800080"];
const COLORS_B = ["#000000", "#ff0000", "#00ff00", "#0000ff", "#00ffff",
  "#ff00ff", "#ffff00", "#808000", "#000080"];

const SANS = '"Liberation Sans", Arial, Helvetica, sans-serif';
const SERIF = '"Liberation Serif", "Times New Roman", serif';
const AXIS_COLOR = "#1f1f1f";
const LABEL_COLOR = "#3a3a3a";

const SERIES_A = [
  [A_ALPHA_PINENE_LO, A_ALPHA_PINENE_HI],
  [A_ALPHA_TERPINENE_LO, A_ALPHA_TERPINENE_HI],
  [A_BETA_PINENE_LO, A_BETA_PINENE_HI],
  [A_CAMPHENE_LO, A_CAMPHENE_HI],
  [A_CARENE_LO, A_CARENE_HI],
  [A_ISOTERPINOLENE_LO, A_ISOTERPINOLENE_HI],
  [A_P_CYMENE_LO, A_P_CYMENE_HI],
  [A_PHYTOL_LO, A_PHYTOL_HI],
  [A_SABINENE_LO, A_SABINENE_HI],
  [A_APO_LO, A_APO_HI],
];
const SERIES_B = [
  [B_APIGENIN_LO, B_APIGENIN_HI],
  [B_BIACALEIN_LO, B_BIACALEIN_HI],
  [B_DIADZEIN_LO, B_DIADZEIN_HI],
  [B_FISETIN_LO, B_FISETIN_HI],
  [B_GENISTIN_LO, B_GENISTIN_HI],
  [B_GLYCITEIN_LO, B_GLYCITEIN_HI],
  [B_PHLORETIN_LO, B_PHLORETIN_HI],
  [B_QUERCETIN_LO, B_QUERCETIN_HI],
  [B_APO_LO, B_APO_HI],
];

function bandSeries(name: string, color: string, lo: number[], hi: number[], xIdx: number, yIdx: number) {
  const n = Math.min(TIME_NS.length, lo.length, hi.length);
  return {
    type: "custom",
    name,
    coordinateSystem: "cartesian2d",
    xAxisIndex: xIdx,
    yAxisIndex: yIdx,
    clip: true,
    silent: true,
    data: TIME_NS.slice(0, n).map((t, i) => [t, lo[i], hi[i]]),
    encode: { x: 0, y: [1, 2] },
    renderItem: (params: any, api: any) => {
      if (params.dataIndex !== 0) return null;
      const pts: number[][] = [];
      for (let i = 0; i < n; i++) pts.push(api.coord([TIME_NS[i], lo[i]]));
      for (let i = n - 1; i >= 0; i--) pts.push(api.coord([TIME_NS[i], hi[i]]));
      return {
        type: "polygon",
        shape: { points: pts },
        style: { fill: color, stroke: color, lineWidth: 1 },
      };
    },
  };
}

function xAxisFor(gridIndex: number) {
  return {
    type: "value",
    gridIndex,
    min: 0,
    max: 100,
    interval: 20,
    axisLine: { show: true, onZero: false, lineStyle: { color: AXIS_COLOR, width: 1.5 } },
    axisTick: { show: true, length: 7, lineStyle: { color: AXIS_COLOR, width: 1.5 } },
    minorTick: { show: true, splitNumber: 2, length: 4, lineStyle: { color: AXIS_COLOR, width: 1.5 } },
    axisLabel: {
      color: LABEL_COLOR, fontFamily: SANS, fontSize: 16, margin: 14,
      customValues: X_TICKS,
      formatter: (v: number) => String(v),
    },
    splitLine: { show: false },
    minorSplitLine: { show: false },
  };
}

function legendGraphics(names: string[], colors: string[], x0: number, y0: number, step: number) {
  const out: any[] = [];
  names.forEach((n, i) => {
    const y = y0 + i * step;
    out.push({
      type: "line",
      silent: true,
      shape: { x1: x0, y1: y, x2: x0 + 57, y2: y },
      style: { stroke: colors[i], lineWidth: 2.5 },
    });
    out.push({
      type: "text",
      silent: true,
      x: x0 + 65,
      y,
      style: {
        text: n,
        fill: "#1a1a1a",
        font: `bold 17px ${SANS}`,
        align: "left",
        verticalAlign: "middle",
        textAlign: "left",
        textVerticalAlign: "middle",
      },
    });
  });
  return out;
}

function textEl(text: string, x: number, y: number, font: string, rotation = 0) {
  return {
    type: "text",
    silent: true,
    x,
    y,
    rotation,
    style: {
      text,
      fill: "#111111",
      font,
      align: "center",
      verticalAlign: "middle",
      textAlign: "center",
      textVerticalAlign: "middle",
    },
  };
}

export default function App() {
  const ref = useRef<HTMLDivElement>(null);

  useEffect(() => {
    if (!ref.current) return;
    const chart = echarts.init(ref.current, null, { renderer: "svg" });

    const series: any[] = [];
    SERIES_A.forEach((s, i) => series.push(bandSeries(NAMES_A[i], COLORS[i], s[0], s[1], 0, 0)));
    SERIES_B.forEach((s, i) => series.push(bandSeries(NAMES_B[i], COLORS_B[i], s[0], s[1], 1, 2)));

    const option: any = {
      animation: false,
      backgroundColor: "#ffffff",
      grid: [
        { left: 84, top: 115, width: 541, height: 460, outerBoundsMode: "none", containLabel: false },
        { left: 900, top: 115, width: 542, height: 460, outerBoundsMode: "none", containLabel: false },
      ],
      xAxis: [xAxisFor(0), xAxisFor(1)],
      yAxis: [
        {
          type: "value",
          gridIndex: 0,
          position: "left",
          min: -0.25,
          max: 3.5,
          interval: 0.25,
          axisLine: { show: true, lineStyle: { color: AXIS_COLOR, width: 1.5 } },
          axisTick: { show: true, length: 7, customValues: Y_TICKS, lineStyle: { color: AXIS_COLOR, width: 1.5 } },
          axisLabel: {
            color: LABEL_COLOR, fontFamily: SANS, fontSize: 16, margin: 11,
            customValues: Y_TICKS,
            formatter: (v: number) => v.toFixed(1),
          },
          splitLine: { show: false },
        },
        {
          type: "value",
          gridIndex: 0,
          position: "left",
          min: -0.25,
          max: 3.5,
          interval: 0.25,
          axisLine: { show: false },
          axisTick: { show: true, length: 4, customValues: Y_MINOR_A, lineStyle: { color: AXIS_COLOR, width: 1.5 } },
          axisLabel: { show: false },
          splitLine: { show: false },
        },
        {
          type: "value",
          gridIndex: 1,
          position: "left",
          min: 0,
          max: 3.5,
          interval: 0.5,
          axisLine: { show: true, lineStyle: { color: AXIS_COLOR, width: 1.5 } },
          axisTick: { show: true, length: 7, lineStyle: { color: AXIS_COLOR, width: 1.5 } },
          minorTick: { show: true, splitNumber: 2, length: 4, lineStyle: { color: AXIS_COLOR, width: 1.5 } },
          axisLabel: {
            color: LABEL_COLOR, fontFamily: SANS, fontSize: 16, margin: 11,
            formatter: (v: number) => v.toFixed(1),
          },
          splitLine: { show: false },
          minorSplitLine: { show: false },
        },
      ],
      series,
      graphic: {
        elements: [
          ...legendGraphics(NAMES_A, COLORS, 642, 26, 29.9),
          ...legendGraphics(NAMES_B, COLORS_B, 1462, 19.5, 29.9),
          textEl("RMSD(Å)", 28, 357, `bold 18px ${SANS}`, Math.PI / 2),
          textEl("RMSD(Å)", 843, 360, `bold 18px ${SANS}`, Math.PI / 2),
          textEl("Time(ns)", 355, 632, `bold 17px ${SANS}`),
          textEl("Time(ns)", 1171, 633, `bold 17px ${SANS}`),
          textEl("(A)", 377, 667, `20px ${SERIF}`),
          textEl("(B)", 1147, 668, `20px ${SERIF}`),
        ],
      },
    };

    chart.setOption(option);
    return () => chart.dispose();
  }, []);

  return (
    <div
      ref={ref}
      style={{ position: "fixed", left: 0, top: 0, width: "1619px", height: "682px", background: "#ffffff" }}
    />
  );
}
